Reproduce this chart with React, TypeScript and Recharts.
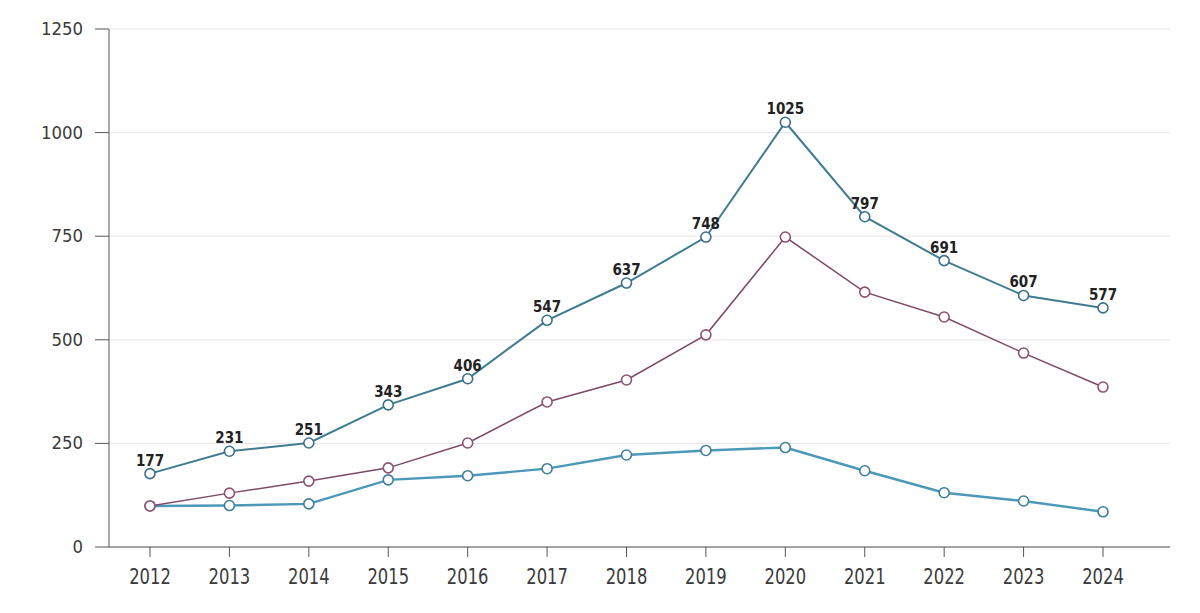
import { LineChart, Line, XAxis, YAxis, CartesianGrid, LabelList } from 'recharts';

const years = ['2012', '2013', '2014', '2015', '2016', '2017', '2018', '2019', '2020', '2021', '2022', '2023', '2024'];
const totalValues = [177, 231, 251, 343, 406, 547, 637, 748, 1025, 797, 691, 607, 577];
const middleValues = [99, 130, 159, 191, 251, 350, 403, 512, 748, 615, 555, 468, 386];
const lowerValues = [99, 100, 104, 162, 172, 189, 222, 233, 240, 184, 131, 111, 85];
const yTicks = [0, 250, 500, 750, 1000, 1250];

const data = years.map((year, i) => ({
  year,
  total: totalValues[i],
  middle: middleValues[i],
  lower: lowerValues[i],
}));

const XTick = (props: any) => {
  const { x, y, payload } = props;
  return (
    <g transform={`translate(${x},${y + 25}) scale(0.78,1)`}>
      <text textAnchor="middle" fontSize={21} fill="#3a3a3a" fontFamily="DejaVu Sans">
        {payload.value}
      </text>
    </g>
  );
};

const YTick = (props: any) => {
  const { x, y, payload } = props;
  return (
    <g transform={`translate(${x},${y + 6}) scale(0.92,1)`}>
      <text textAnchor="end" fontSize={18} fill="#3a3a3a" fontFamily="DejaVu Sans">
        {payload.value}
      </text>
    </g>
  );
};

const dot = (color: string) => ({ r: 5, fill: '#fff', stroke: color, strokeWidth: 1.6 });

export default function App() {
  return (
    <div style={{ position: 'absolute', top: 0, left: 0, background: '#fff' }}>
      <LineChart width={1200} height={613} data={data} margin={{ top: 29, right: 30, bottom: 26, left: 0 }}>
        <CartesianGrid vertical={false} stroke="#e6e6e6" />
        <XAxis
          dataKey="year"
          height={40}
          padding={{ left: 41, right: 67 }}
          tickSize={10}
          stroke="#555"
          tick={<XTick />}
        />
        <YAxis
          width={109}
          domain={[0, 1250]}
          ticks={yTicks}
          tickSize={14}
          tickMargin={12}
          stroke="#555"
          tick={<YTick />}
        />
        <Line
          type="linear"
          dataKey="lower"
          stroke="#4b98b8"
          strokeWidth={2.4}
          dot={dot('#3e7f9c')}
          isAnimationActive={false}
        />
        <Line
          type="linear"
          dataKey="middle"
          stroke="#7d4a66"
          strokeWidth={1.5}
          dot={dot('#8c5373')}
          isAnimationActive={false}
        />
        <Line
          type="linear"
          dataKey="total"
          stroke="#3f7c90"
          strokeWidth={2}
          dot={dot('#3a7086')}
          isAnimationActive={false}
        >
          <LabelList
            dataKey="total"
            position="top"
            offset={8}
            fontSize={15}
            fontWeight="bold"
            fontFamily="DejaVu Sans Condensed"
            fill="#222"
          />
        </Line>
      </LineChart>
    </div>
  );
}
